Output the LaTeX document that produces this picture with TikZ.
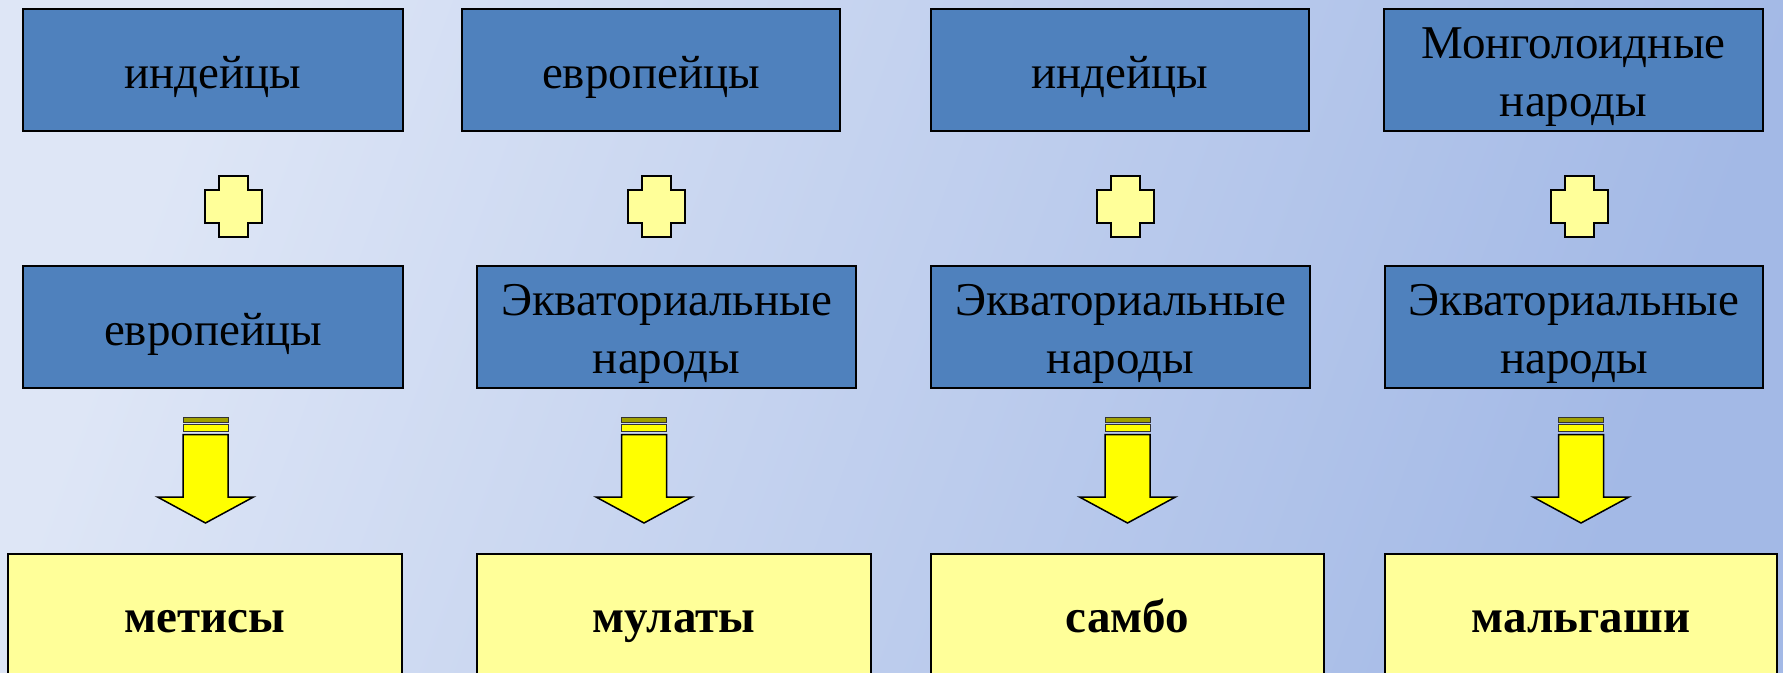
\documentclass[tikz,border=0pt]{standalone}
\usepackage{fontspec}
\setmainfont{Liberation Serif}
\definecolor{bgA}{RGB}{222,230,246}
\definecolor{bgB}{RGB}{163,185,230}
\definecolor{boxblue}{RGB}{79,129,189}
\definecolor{paleyellow}{RGB}{255,255,153}
\definecolor{arrowyellow}{RGB}{255,255,0}
\definecolor{barolive}{RGB}{160,160,0}
\newcommand{\bxtxt}[2]{\raisebox{#1}[0pt][0pt]{\begin{tabular}[t]{@{}c@{}}#2\end{tabular}}}
\begin{document}
\begin{tikzpicture}[x=1pt,y=-1pt,
  bluebox/.style={draw=black, line width=2pt, fill=boxblue, minimum height=122pt,
    inner sep=0pt, align=center, font=\fontsize{47}{58}\selectfont},
  yellowbox/.style={draw=black, line width=1.6pt, fill=paleyellow, minimum height=160pt,
    inner sep=0pt, align=center, font=\fontsize{47}{58}\selectfont\bfseries},
  pics/plussign/.style={code={
    \draw[line width=2pt, fill=paleyellow, line join=miter]
      (-14.5,-30.5) -- (14.5,-30.5) -- (14.5,-16.5) -- (28.5,-16.5) -- (28.5,16.5)
      -- (14.5,16.5) -- (14.5,30.5) -- (-14.5,30.5) -- (-14.5,16.5) -- (-28.5,16.5)
      -- (-28.5,-16.5) -- (-14.5,-16.5) -- cycle;}},
  pics/downarrow/.style={code={
    \draw[line width=0.9pt, draw=black!80, fill=barolive] (-22.5,0.5) rectangle (22.5,5.5);
    \draw[line width=0.9pt, draw=black!80, fill=arrowyellow] (-22.5,7.5) rectangle (22.5,14.5);
    \draw[line width=1.5pt, fill=arrowyellow, line join=miter]
      (-22.5,17.5) -- (22.5,17.5) -- (22.5,80) -- (48,80) -- (0,106) -- (-48,80)
      -- (-22.5,80) -- cycle;}}
]
\useasboundingbox (0,0) rectangle (1783,672);
\clip (0,0) rectangle (1783,672);
\shade[left color=bgA, right color=bgB, shading angle=70] (0,0) rectangle (1783,672);

% top row
\node[bluebox, minimum width=380pt] (t1) at (213,70) {\bxtxt{-18pt}{индейцы}};
\node[bluebox, minimum width=378pt] (t2) at (651,70) {\bxtxt{-18pt}{европейцы}};
\node[bluebox, minimum width=378pt] (t3) at (1120,70) {\bxtxt{-18pt}{индейцы}};
\node[bluebox, minimum width=379pt] (t4) at (1573.5,70) {\bxtxt{12pt}{Монголоидные\\народы}};

% plus signs
\coordinate (p1) at (233.5,206.5);
\coordinate (p2) at (656.5,206.5);
\coordinate (p3) at (1125,206.5);
\coordinate (p4) at (1579,206.5);
\foreach \p in {p1,p2,p3,p4} { \pic at (\p) {plussign}; }

% middle row
\node[bluebox, minimum width=380pt] (m1) at (213,327) {\bxtxt{-18pt}{европейцы}};
\node[bluebox, minimum width=379pt] (m2) at (666.5,327) {\bxtxt{12pt}{Экваториальные\\народы}};
\node[bluebox, minimum width=379pt] (m3) at (1120.5,327) {\bxtxt{12pt}{Экваториальные\\народы}};
\node[bluebox, minimum width=378pt] (m4) at (1574,327) {\bxtxt{12pt}{Экваториальные\\народы}};

% arrows
\coordinate (a1) at (205.5,417);
\coordinate (a2) at (644,417);
\coordinate (a3) at (1127.5,417);
\coordinate (a4) at (1581,417);
\foreach \a in {a1,a2,a3,a4} { \pic at (\a) {downarrow}; }

% bottom row
\node[yellowbox, minimum width=394pt] (l1) at (205,634) {\bxtxt{2pt}{метисы}};
\node[yellowbox, minimum width=394pt] (l2) at (674,634) {\bxtxt{2pt}{мулаты}};
\node[yellowbox, minimum width=393pt] (l3) at (1127.5,634) {\bxtxt{2pt}{самбо}};
\node[yellowbox, minimum width=392pt] (l4) at (1581,634) {\bxtxt{2pt}{мальгаши}};
\end{tikzpicture}
\end{document}
